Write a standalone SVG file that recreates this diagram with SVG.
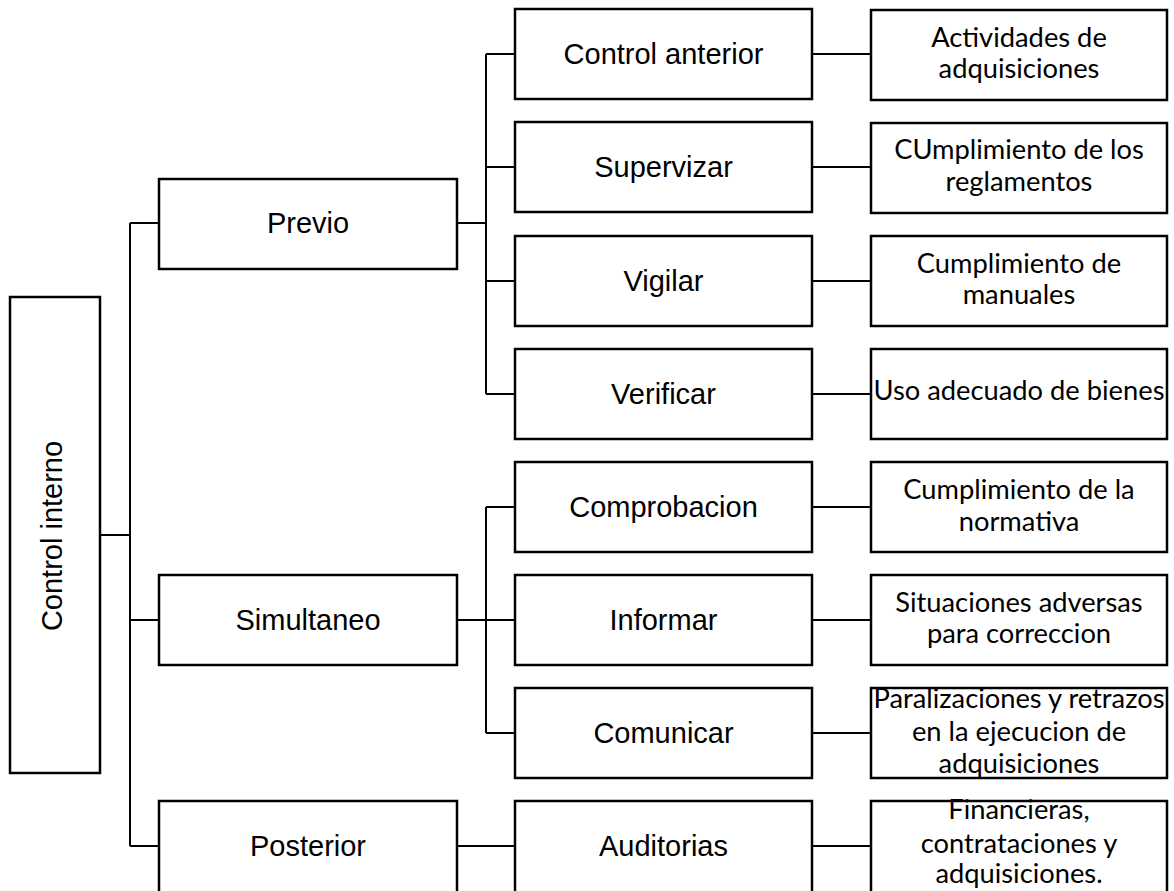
<svg xmlns="http://www.w3.org/2000/svg" width="1174" height="891" viewBox="0 0 1174 891">
<style>
.box{fill:#fff;stroke:#000;stroke-width:2.5}
.a{font-family:"Liberation Sans",Arial,sans-serif;font-size:29px;text-anchor:middle;fill:#000}
.c{font-family:Lato,"Open Sans",sans-serif;font-size:27.3px;text-anchor:middle;fill:#000}
#connectors path{fill:none;stroke:#000;stroke-width:2}
</style>
<rect width="1174" height="891" fill="#fff"/>
<g id="connectors">
<path d="M100,535H130M130,223V846M130,223H159M130,620H159M130,846H159"/>
<path d="M457,223H486M486,54V394M486,54H515M486,167H515M486,281H515M486,394H515"/>
<path d="M457,620H515M486,507V733M486,507H515M486,733H515"/>
<path d="M457,846H515"/>
<path d="M812,54H871M812,167H871M812,281H871M812,394H871M812,507H871M812,620H871M812,733H871M812,846H871"/>
</g>
<g id="root"><rect class="box" x="10" y="297" width="90" height="476"/><text class="a" transform="translate(62,536) rotate(-90)">Control interno</text></g>
<g id="previo"><rect class="box" x="159" y="179" width="298" height="90"/><text class="a" x="308" y="233">Previo</text></g>
<g id="simultaneo"><rect class="box" x="159" y="575" width="298" height="90"/><text class="a" x="308" y="630">Simultaneo</text></g>
<g id="posterior"><rect class="box" x="159" y="801" width="298" height="94"/><text class="a" x="308" y="856">Posterior</text></g>
<g id="control-anterior"><rect class="box" x="515" y="9" width="297" height="90"/><text class="a" x="663.5" y="64">Control anterior</text></g>
<g id="supervizar"><rect class="box" x="515" y="122" width="297" height="90"/><text class="a" x="663.5" y="177">Supervizar</text></g>
<g id="vigilar"><rect class="box" x="515" y="236" width="297" height="90"/><text class="a" x="663.5" y="291">Vigilar</text></g>
<g id="verificar"><rect class="box" x="515" y="349" width="297" height="90"/><text class="a" x="663.5" y="404">Verificar</text></g>
<g id="comprobacion"><rect class="box" x="515" y="462" width="297" height="90"/><text class="a" x="663.5" y="517">Comprobacion</text></g>
<g id="informar"><rect class="box" x="515" y="575" width="297" height="90"/><text class="a" x="663.5" y="630">Informar</text></g>
<g id="comunicar"><rect class="box" x="515" y="688" width="297" height="90"/><text class="a" x="663.5" y="743">Comunicar</text></g>
<g id="auditorias"><rect class="box" x="515" y="801" width="297" height="94"/><text class="a" x="663.5" y="856">Auditorias</text></g>
<g id="actividades"><rect class="box" x="871" y="10" width="296" height="90"/><text class="c" x="1019" y="47">Actividades de</text><text class="c" x="1019" y="78">adquisiciones</text></g>
<g id="reglamentos"><rect class="box" x="871" y="123" width="296" height="90"/><text class="c" x="1019" y="159">CUmplimiento de los</text><text class="c" x="1019" y="191">reglamentos</text></g>
<g id="manuales"><rect class="box" x="871" y="236" width="296" height="90"/><text class="c" x="1019" y="273">Cumplimiento de</text><text class="c" x="1019" y="304">manuales</text></g>
<g id="bienes"><rect class="box" x="871" y="349" width="296" height="90"/><text class="c" x="1019" y="400">Uso adecuado de bienes</text></g>
<g id="normativa"><rect class="box" x="871" y="462" width="296" height="90"/><text class="c" x="1019" y="499">Cumplimiento de la</text><text class="c" x="1019" y="531">normativa</text></g>
<g id="situaciones"><rect class="box" x="871" y="575" width="296" height="90"/><text class="c" x="1019" y="612">Situaciones adversas</text><text class="c" x="1019" y="643">para correccion</text></g>
<g id="paralizaciones"><rect class="box" x="871" y="688" width="296" height="90"/><text class="c" x="1019" y="708">Paralizaciones y retrazos</text><text class="c" x="1019" y="741">en la ejecucion de</text><text class="c" x="1019" y="773">adquisiciones</text></g>
<g id="financieras"><rect class="box" x="871" y="801" width="296" height="94"/><text class="c" x="1019" y="819">Financieras,</text><text class="c" x="1019" y="853">contrataciones y</text><text class="c" x="1019" y="883">adquisiciones.</text></g>
</svg>
